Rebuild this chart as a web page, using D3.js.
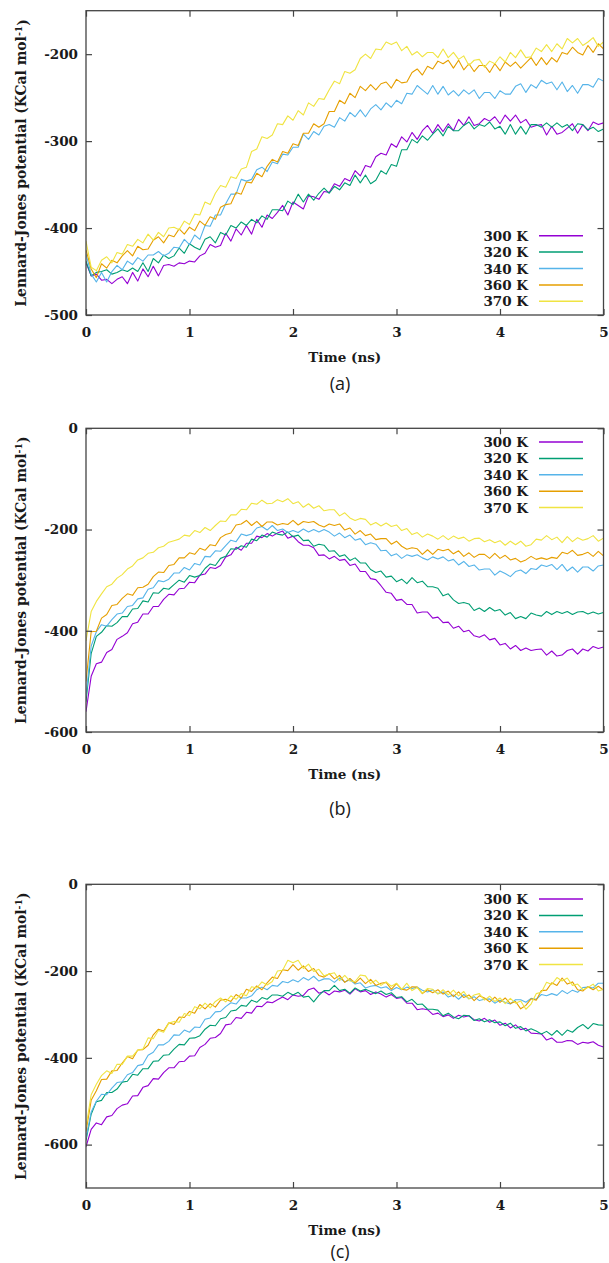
<!DOCTYPE html>
<html><head><meta charset="utf-8">
<script src="https://cdn.jsdelivr.net/npm/d3@7"></script>
<style>
html,body{margin:0;padding:0;background:#fff;}
svg{display:block;}
</style></head><body>
<svg id="chart" width="609" height="1263"></svg>
<script>
// ---------- data ----------
const seriesLabels = ["300 K","320 K","340 K","360 K","370 K"];
const seriesColors = ["#9400d3","#009e73","#56b4e9","#e69f00","#f0e442"];
const xTicks = [0,1,2,3,4,5];
const yTicksA = [-500,-400,-300,-200];
const yTicksB = [-600,-400,-200,0];
const yTicksC = [-600,-400,-200,0];
const xTitle = "Time (ns)";
const yTitle = "Lennard-Jones potential (KCal mol";
const panelLabels = ["(a)","(b)","(c)"];
// sampling times, ns (0 .. 5 every 0.05 ns)
const timeNs = d3.range(101).map(i => +(i * 0.05).toFixed(2));

// panel (a)
const a300 = [-440,-455,-453,-460,-459,-464,-459,-456,-464,-451,
 -461,-447,-456,-444,-455,-443,-442,-444,-440,-441,
 -438,-439,-432,-429,-419,-422,-420,-406,-415,-401,
 -408,-397,-407,-390,-399,-385,-389,-382,-374,-385,
 -370,-374,-378,-363,-364,-367,-358,-359,-349,-352,
 -343,-346,-334,-340,-328,-330,-318,-314,-316,-303,
 -307,-295,-301,-290,-298,-288,-282,-291,-281,-289,
 -280,-288,-275,-282,-272,-282,-280,-274,-277,-272,
 -280,-270,-277,-270,-279,-275,-284,-282,-281,-293,
 -283,-292,-290,-285,-280,-291,-281,-288,-278,-281,-279];
const a320 = [-438,-455,-451,-450,-448,-453,-451,-448,-450,-446,
 -450,-440,-450,-435,-440,-431,-435,-432,-423,-429,
 -418,-422,-425,-413,-410,-417,-405,-408,-397,-400,
 -393,-397,-390,-394,-386,-390,-379,-379,-380,-369,
 -373,-361,-370,-361,-368,-360,-354,-360,-352,-356,
 -348,-351,-339,-348,-339,-349,-345,-334,-338,-327,
 -329,-310,-310,-298,-302,-294,-299,-292,-286,-294,
 -283,-288,-288,-282,-278,-286,-281,-283,-278,-286,
 -283,-292,-281,-292,-283,-292,-281,-281,-284,-279,
 -284,-279,-284,-281,-288,-280,-281,-287,-284,-289,-286];
const a340 = [-430,-453,-462,-451,-462,-450,-443,-448,-438,-442,
 -434,-438,-431,-431,-427,-432,-429,-422,-423,-413,
 -419,-408,-413,-397,-398,-385,-385,-372,-361,-361,
 -344,-346,-344,-333,-330,-335,-324,-326,-315,-316,
 -307,-307,-292,-298,-289,-293,-283,-281,-284,-273,
 -277,-267,-272,-264,-272,-263,-258,-264,-256,-261,
 -253,-257,-245,-246,-236,-241,-246,-236,-246,-237,
 -247,-242,-248,-241,-246,-241,-251,-244,-244,-251,
 -242,-246,-246,-237,-234,-244,-235,-239,-230,-234,
 -232,-241,-232,-243,-236,-245,-235,-235,-238,-228,-231];
const a360 = [-425,-447,-457,-441,-446,-437,-440,-432,-426,-432,
 -421,-425,-424,-414,-410,-417,-408,-410,-401,-407,
 -399,-403,-392,-397,-387,-390,-376,-373,-372,-359,
 -361,-347,-348,-337,-341,-329,-321,-324,-312,-314,
 -303,-305,-291,-291,-280,-284,-280,-266,-266,-253,
 -257,-245,-250,-237,-242,-235,-241,-234,-232,-239,
 -229,-233,-232,-221,-217,-224,-214,-217,-208,-211,
 -207,-216,-207,-218,-211,-220,-213,-213,-221,-211,
 -219,-209,-214,-209,-216,-210,-204,-213,-204,-212,
 -204,-209,-198,-200,-192,-198,-201,-190,-198,-188,-194];
const a370 = [-415,-445,-449,-437,-433,-440,-428,-430,-419,-421,
 -413,-417,-407,-414,-405,-410,-400,-399,-402,-392,
 -396,-384,-385,-370,-373,-360,-351,-353,-341,-343,
 -332,-330,-312,-309,-295,-297,-293,-280,-281,-271,
 -276,-265,-270,-256,-260,-251,-252,-241,-231,-234,
 -220,-222,-218,-205,-200,-205,-194,-195,-186,-189,
 -186,-196,-191,-201,-197,-203,-198,-198,-204,-194,
 -204,-198,-206,-202,-213,-207,-206,-215,-208,-211,
 -203,-209,-198,-204,-195,-204,-203,-193,-197,-189,
 -197,-188,-194,-182,-187,-182,-190,-186,-181,-191,-186];

// panel (b)
const b300 = [-560,-490,-465,-462,-443,-437,-417,-411,-404,-386,
 -383,-367,-367,-352,-352,-338,-328,-329,-317,-316,
 -304,-305,-290,-288,-275,-277,-271,-254,-250,-235,
 -241,-227,-227,-213,-216,-208,-213,-207,-203,-217,
 -213,-224,-231,-231,-236,-251,-250,-258,-253,-261,
 -259,-271,-268,-283,-283,-297,-299,-311,-324,-326,
 -340,-338,-348,-348,-365,-363,-363,-375,-373,-384,
 -383,-395,-391,-402,-399,-410,-413,-408,-418,-415,
 -428,-425,-436,-429,-439,-434,-439,-437,-436,-448,
 -440,-450,-448,-439,-436,-446,-436,-440,-431,-435,-432];
const b320 = [-540,-445,-411,-403,-390,-391,-384,-372,-372,-357,
 -356,-341,-343,-325,-326,-316,-318,-309,-300,-304,
 -291,-294,-291,-277,-268,-271,-257,-253,-238,-239,
 -232,-235,-219,-222,-211,-215,-205,-209,-211,-205,
 -214,-211,-222,-221,-233,-229,-231,-243,-242,-253,
 -250,-261,-256,-266,-266,-279,-285,-282,-294,-292,
 -303,-298,-307,-295,-305,-302,-313,-313,-316,-331,
 -327,-339,-346,-344,-347,-360,-355,-362,-354,-361,
 -358,-369,-364,-376,-372,-376,-365,-369,-371,-362,
 -368,-362,-366,-362,-368,-363,-362,-367,-363,-367,-364];
const b340 = [-530,-430,-402,-388,-391,-378,-367,-365,-352,-350,
 -337,-335,-318,-315,-301,-303,-298,-286,-286,-275,
 -280,-267,-270,-253,-254,-242,-243,-232,-221,-224,
 -209,-212,-209,-197,-194,-201,-192,-202,-199,-206,
 -202,-206,-199,-205,-200,-205,-200,-205,-213,-207,
 -216,-211,-221,-218,-230,-226,-229,-242,-241,-252,
 -248,-257,-250,-253,-250,-256,-260,-254,-258,-254,
 -262,-259,-270,-263,-273,-270,-280,-278,-278,-290,
 -282,-287,-293,-283,-280,-287,-277,-279,-270,-273,
 -269,-279,-269,-282,-274,-284,-274,-274,-282,-272,-270];
const b360 = [-500,-402,-401,-375,-368,-350,-348,-336,-327,-330,
 -315,-314,-308,-293,-284,-285,-271,-269,-256,-256,
 -246,-249,-237,-241,-230,-232,-216,-210,-207,-191,
 -189,-182,-192,-184,-194,-185,-185,-191,-188,-190,
 -182,-191,-184,-186,-184,-191,-195,-189,-192,-189,
 -201,-197,-209,-202,-212,-209,-220,-218,-218,-229,
 -223,-233,-239,-236,-238,-249,-240,-249,-239,-242,
 -239,-248,-242,-253,-246,-255,-249,-249,-257,-247,
 -257,-251,-260,-257,-264,-260,-253,-259,-256,-259,
 -255,-257,-245,-248,-241,-251,-249,-245,-253,-243,-252];
const b370 = [-420,-362,-342,-327,-313,-308,-296,-289,-278,-272,
 -260,-256,-247,-245,-236,-233,-225,-222,-219,-211,
 -213,-202,-206,-196,-202,-192,-183,-184,-171,-171,
 -160,-161,-148,-150,-142,-149,-148,-141,-145,-139,
 -149,-145,-156,-149,-158,-153,-163,-161,-161,-173,
 -167,-177,-182,-178,-180,-191,-186,-193,-187,-194,
 -191,-202,-198,-210,-206,-215,-209,-213,-219,-212,
 -220,-213,-218,-215,-223,-218,-217,-224,-220,-226,
 -222,-231,-223,-230,-223,-233,-230,-219,-221,-212,
 -220,-215,-226,-214,-224,-216,-221,-218,-212,-223,-217];

// panel (c)
const c300 = [-605,-565,-550,-554,-536,-533,-517,-509,-506,-488,
 -487,-468,-464,-448,-449,-434,-423,-423,-409,-408,
 -396,-395,-376,-369,-355,-353,-344,-324,-322,-307,
 -309,-295,-297,-281,-282,-271,-273,-266,-260,-266,
 -255,-258,-256,-243,-239,-251,-247,-255,-246,-248,
 -244,-253,-241,-248,-245,-254,-248,-253,-260,-254,
 -263,-261,-274,-274,-289,-287,-289,-300,-297,-305,
 -301,-309,-302,-306,-303,-312,-315,-309,-318,-313,
 -325,-320,-331,-324,-335,-332,-343,-344,-345,-359,
 -354,-364,-364,-360,-361,-369,-364,-366,-363,-371,-375];
const c320 = [-590,-530,-501,-498,-480,-480,-472,-456,-454,-438,
 -440,-425,-425,-408,-407,-394,-393,-380,-369,-370,
 -355,-354,-349,-334,-325,-326,-310,-307,-292,-290,
 -279,-281,-267,-272,-261,-265,-255,-255,-258,-249,
 -255,-249,-260,-258,-271,-256,-245,-245,-233,-245,
 -242,-251,-239,-246,-242,-247,-252,-246,-254,-250,
 -261,-259,-271,-265,-277,-276,-288,-288,-290,-303,
 -297,-306,-310,-302,-303,-314,-310,-317,-312,-319,
 -317,-326,-320,-332,-328,-338,-333,-338,-345,-339,
 -348,-337,-348,-336,-341,-330,-323,-333,-321,-324,-325];
const c340 = [-585,-525,-500,-484,-485,-470,-457,-455,-439,-434,
 -418,-415,-394,-387,-370,-370,-362,-347,-348,-336,
 -341,-329,-330,-311,-308,-294,-293,-282,-273,-276,
 -262,-262,-257,-243,-237,-243,-233,-235,-224,-227,
 -220,-225,-215,-221,-212,-223,-218,-218,-226,-216,
 -225,-220,-230,-227,-239,-235,-233,-239,-236,-245,
 -238,-243,-237,-240,-237,-244,-248,-243,-252,-248,
 -260,-255,-265,-254,-264,-259,-268,-265,-264,-274,
 -267,-272,-276,-266,-266,-272,-263,-265,-254,-257,
 -252,-256,-245,-252,-244,-249,-238,-237,-239,-228,-228];
const c360 = [-570,-498,-476,-450,-449,-430,-429,-412,-397,-402,
 -382,-381,-371,-347,-334,-338,-319,-323,-306,-307,
 -293,-297,-277,-287,-275,-283,-267,-265,-270,-254,
 -262,-242,-247,-234,-243,-227,-214,-217,-197,-199,
 -185,-198,-188,-201,-194,-210,-214,-206,-218,-210,
 -226,-217,-228,-216,-229,-219,-233,-228,-226,-242,
 -229,-242,-244,-236,-237,-252,-243,-250,-243,-253,
 -246,-259,-248,-261,-255,-268,-257,-262,-271,-260,
 -272,-262,-275,-270,-287,-279,-264,-267,-245,-244,
 -227,-233,-216,-230,-225,-243,-246,-236,-243,-235,-244];
const c370 = [-560,-485,-461,-441,-430,-436,-415,-415,-396,-396,
 -382,-380,-354,-356,-337,-341,-320,-316,-318,-298,
 -303,-282,-287,-274,-285,-270,-262,-271,-257,-265,
 -252,-257,-236,-239,-225,-232,-224,-200,-198,-175,
 -181,-175,-194,-184,-201,-196,-211,-207,-204,-222,
 -210,-223,-224,-209,-211,-229,-221,-233,-225,-235,
 -228,-242,-228,-245,-238,-251,-240,-242,-253,-243,
 -255,-244,-257,-247,-264,-255,-252,-267,-258,-270,
 -262,-275,-263,-274,-269,-288,-276,-252,-249,-226,
 -231,-215,-223,-216,-233,-230,-243,-238,-230,-246,-242];

// ---------- layout ----------
const svg = d3.select("#chart");
const serif = "'DejaVu Serif', serif";
const txt = "#1a1a1a";
const frameColor = "#444";
const left = 86, right = 603.5;

const panels = [
  {label: panelLabels[0], series: [a300,a320,a340,a360,a370], yDomain: [-500,-150], yTicks: yTicksA,
   top: 10.7, bottom: 315, legendTop: 235.7, captionY: 390},
  {label: panelLabels[1], series: [b300,b320,b340,b360,b370], yDomain: [-600,0], yTicks: yTicksB,
   top: 428.3, bottom: 732, legendTop: 442, captionY: 815},
  {label: panelLabels[2], series: [c300,c320,c340,c360,c370], yDomain: [-700,0], yTicks: yTicksC,
   top: 884.3, bottom: 1188, legendTop: 899, captionY: 1258}
];

const x = d3.scaleLinear().domain([0,5]).range([left, right]);
const fmt = d => String(d);

panels.forEach(p => {
  const y = d3.scaleLinear().domain(p.yDomain).range([p.bottom, p.top]);
  const g = svg.append("g");

  const cid = "clip" + p.label.replace(/[()]/g, "");
  svg.append("clipPath").attr("id", cid).append("rect")
    .attr("x", left).attr("y", p.top).attr("width", right - left).attr("height", p.bottom - p.top);

  const line = d3.line().x((d, i) => x(timeNs[i])).y(d => y(d));
  const lg = g.append("g").attr("clip-path", `url(#${cid})`);
  p.series.forEach((s, k) => {
    lg.append("path").datum(s).attr("d", line)
      .attr("fill", "none").attr("stroke", seriesColors[k])
      .attr("stroke-width", 1.1).attr("stroke-linejoin", "round");
  });

  const styleAxis = sel => {
    sel.select(".domain").remove();
    sel.selectAll(".tick line").attr("stroke", frameColor).attr("stroke-width", 1.2);
    sel.selectAll(".tick text").attr("font-family", serif).attr("font-weight", "bold")
      .attr("font-size", "13.5px").attr("fill", txt);
  };
  g.append("g").attr("transform", `translate(${left},0)`)
    .call(d3.axisLeft(y).tickValues(p.yTicks).tickSizeInner(-6).tickSizeOuter(0).tickPadding(8).tickFormat(fmt))
    .call(styleAxis);
  g.append("g").attr("transform", `translate(${right},0)`)
    .call(d3.axisRight(y).tickValues(p.yTicks).tickSizeInner(-6).tickSizeOuter(0).tickFormat(""))
    .call(styleAxis);
  g.append("g").attr("transform", `translate(0,${p.bottom})`)
    .call(d3.axisBottom(x).tickValues(xTicks).tickSizeInner(-6).tickSizeOuter(0).tickPadding(12).tickFormat(fmt))
    .call(styleAxis);
  g.append("g").attr("transform", `translate(0,${p.top})`)
    .call(d3.axisTop(x).tickValues(xTicks).tickSizeInner(-6).tickSizeOuter(0).tickFormat(""))
    .call(styleAxis);

  g.append("rect").attr("x", left).attr("y", p.top).attr("width", right - left).attr("height", p.bottom - p.top)
    .attr("fill", "none").attr("stroke", frameColor).attr("stroke-width", 1.3);

  const leg = g.append("g");
  seriesLabels.forEach((lab, k) => {
    const cy = p.legendTop + k * 16.4;
    leg.append("text").attr("x", 528).attr("y", cy + 5).attr("text-anchor", "end")
      .attr("font-family", serif).attr("font-weight", "bold").attr("font-size", "13.5px").attr("fill", txt).text(lab);
    leg.append("line").attr("x1", 539).attr("x2", 583).attr("y1", cy).attr("y2", cy)
      .attr("stroke", seriesColors[k]).attr("stroke-width", 1.5);
  });

  g.append("text").attr("x", (left + right) / 2).attr("y", p.bottom + 47).attr("text-anchor", "middle")
    .attr("font-family", serif).attr("font-weight", "bold").attr("font-size", "13.5px").attr("fill", txt).text(xTitle);

  const cyT = (p.top + p.bottom) / 2;
  const yt = g.append("text").attr("transform", `translate(26,${cyT}) rotate(-90)`).attr("text-anchor", "middle")
    .attr("font-family", serif).attr("font-weight", "bold").attr("font-size", "13px").attr("fill", txt);
  yt.append("tspan").text(yTitle);
  yt.append("tspan").attr("dy", "-0.45em").attr("font-size", "9px").text("-1");
  yt.append("tspan").attr("dy", "0.45em").text(")");
  const len = yt.node().getComputedTextLength();
  const fs = 13 * 288 / len;
  yt.attr("font-size", fs + "px");
  yt.selectAll("tspan").filter((d, i) => i === 1).attr("font-size", (fs * 0.68) + "px");

  g.append("text").attr("x", 340).attr("y", p.captionY).attr("text-anchor", "middle")
    .attr("font-family", "'Open Sans', 'Liberation Sans', sans-serif").attr("font-size", "18px").attr("fill", txt).text(p.label);
});
</script>
</body></html>
